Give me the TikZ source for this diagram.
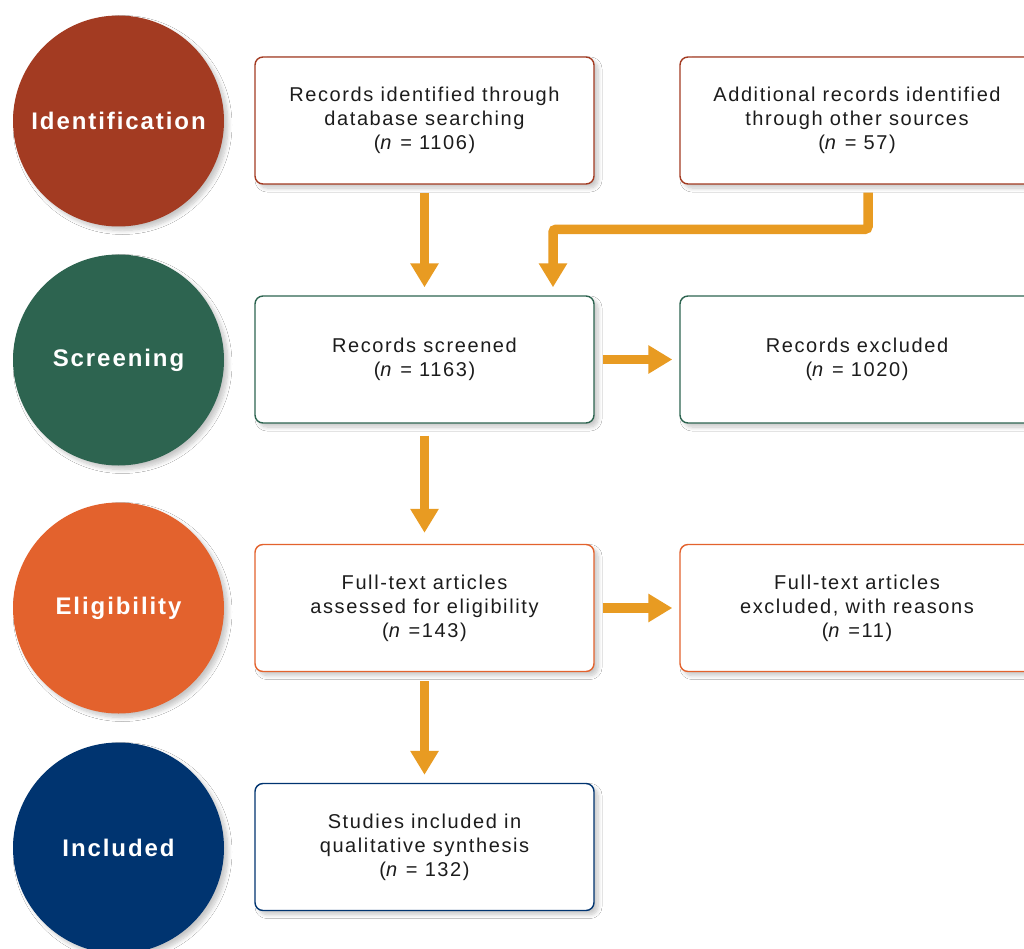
\documentclass[tikz,border=0pt]{standalone}
\usepackage{fontspec}
\setmainfont{Liberation Sans}[LetterSpace=8]
\usetikzlibrary{arrows.meta,shadows.blur,calc}

\definecolor{idcol}{HTML}{A33B22}
\definecolor{scrcol}{HTML}{2D6450}
\definecolor{elicol}{HTML}{E3622D}
\definecolor{inccol}{HTML}{003470}
\definecolor{flowcol}{HTML}{E89B22}
\definecolor{textcol}{HTML}{1C1C1C}

\tikzset{
  softshadow/.style={blur shadow={shadow xshift=4pt, shadow yshift=-4pt,
      shadow blur radius=4pt, shadow blur steps=8, shadow opacity=22}},
  phase/.style={circle, minimum size=211pt, inner sep=0pt, fill=#1,
      text=white, font=\fontsize{24}{28}\selectfont\bfseries, softshadow},
  stepbox/.style={draw=#1, line width=1.4pt, rounded corners=8pt, fill=white,
      minimum width=339pt, minimum height=127pt, align=center, text=textcol,
      font=\fontsize{20}{24}\selectfont, softshadow},
  widebox/.style={stepbox=#1, minimum width=354pt},
  flow/.style={draw=flowcol, line width=9.5pt,
      -{Triangle[width=27pt,length=24pt]}},
}

\begin{document}
\begin{tikzpicture}[x=1pt,y=-1pt]
  \useasboundingbox[fill=white] (0,0) rectangle (1024,949);

  % phase markers on the left
  \node[phase=idcol]  (pid)  at (118.5,121) {Identification};
  \node[phase=scrcol] (pscr) at (118.5,360) {Screening};
  \node[phase=elicol] (peli) at (118.5,608) {Eligibility};
  \node[phase=inccol] (pinc) at (118.5,848) {Included};

  % main column
  \node[stepbox=idcol]  (db)   at (424.5,120.5) {Records identified through\\database searching\\(\textit{n} = 1106)};
  \node[stepbox=scrcol] (scr)  at (424.5,359.5) {Records screened\\(\textit{n} = 1163)};
  \node[stepbox=elicol] (full) at (424.5,608)   {Full-text articles\\assessed for eligibility\\(\textit{n} =143)};
  \node[stepbox=inccol] (inc)  at (424.5,847)   {Studies included in\\qualitative synthesis\\(\textit{n} = 132)};

  % side column
  \node[widebox=idcol]  (other) at (857,120.5) {Additional records identified\\through other sources\\(\textit{n} = 57)};
  \node[widebox=scrcol] (exc)   at (857,359.5) {Records excluded\\(\textit{n} = 1020)};
  \node[widebox=elicol] (excr)  at (857,608)   {Full-text articles\\excluded, with reasons\\(\textit{n} =11)};

  % connectors
  \draw[flow, shorten <=8pt, shorten >=8pt] (db.south) -- (scr.north);
  \coordinate (bend) at ($(scr.north)+(128.5,-66)$);
  \draw[flow, rounded corners=3pt]
    ($(other.south)+(11,8)$) |- (bend) -- ($(scr.north)+(128.5,-8)$);
  \draw[flow, shorten <=8pt, shorten >=7pt] (scr.east) -- (exc.west);
  \draw[flow, shorten <=12pt, shorten >=11pt] (scr.south) -- (full.north);
  \draw[flow, shorten <=8pt, shorten >=7pt] (full.east) -- (excr.west);
  \draw[flow, shorten <=9pt, shorten >=8pt] (full.south) -- (inc.north);
\end{tikzpicture}
\end{document}
